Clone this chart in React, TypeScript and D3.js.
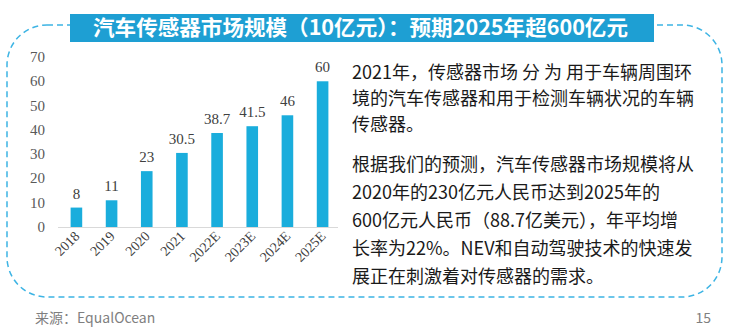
import React from "react";
import * as d3 from "d3";

const categories = ["2018", "2019", "2020", "2021", "2022E", "2023E", "2024E", "2025E"];
const values = [8, 11, 23, 30.5, 38.7, 41.5, 46, 60];
const valueLabels = ["8", "11", "23", "30.5", "38.7", "41.5", "46", "60"];
const yTicks = [0, 10, 20, 30, 40, 50, 60, 70];

const title = "汽车传感器市场规模（10亿元）：预期2025年超600亿元";
const para1 = [
  "2021年，传感器市场 分 为 用于车辆周围环",
  "境的汽车传感器和用于检测车辆状况的车辆",
  "传感器。",
];
const para2 = [
  "根据我们的预测，汽车传感器市场规模将从",
  "2020年的230亿元人民币达到2025年的",
  "600亿元人民币（88.7亿美元），年平均增",
  "长率为22%。NEV和自动驾驶技术的快速发",
  "展正在刺激着对传感器的需求。",
];
const source = "来源：EqualOcean";
const pageNo = "15";

const W = 732;
const H = 331;
const serif = "'Liberation Serif', 'DejaVu Serif', serif";
const sans = "'Noto Sans CJK SC', 'Noto Sans', sans-serif";

export default function App() {
  const x = d3.scaleBand<string>().domain(categories).range([59, 340]).paddingInner(0.67).paddingOuter(0.33);
  const y = d3.scaleLinear().domain([0, 70]).range([227, 57]);

  const boxR = 40;
  const box = { x0: 7, y0: 25, x1: 722, y1: 297 };

  return (
    <svg width={W} height={H} viewBox={`0 0 ${W} ${H}`} style={{ position: "absolute", left: 0, top: 0, background: "#fff" }}>
      <rect x={0} y={0} width={W} height={H} fill="#fff" />
      {/* dashed rounded frame */}
      <rect
        x={box.x0}
        y={box.y0}
        width={box.x1 - box.x0}
        height={box.y1 - box.y0}
        rx={boxR}
        ry={boxR}
        fill="none"
        stroke="#3db4e4"
        strokeWidth={1.5}
        strokeDasharray="6 4"
      />
      {/* title banner */}
      <rect x={70} y={14} width={584} height={28} fill="#1e9fd3" />
      <text
        x={93}
        y={35}
        fill="#fff"
        fontFamily={sans}
        fontWeight={700}
        fontSize={21}
        textLength={535}
        lengthAdjust="spacingAndGlyphs"
      >
        {title}
      </text>

      {/* y tick labels */}
      {yTicks.map((t) => (
        <text key={t} x={45} y={y(t) + 5} textAnchor="end" fontFamily={serif} fontSize={15} fill="#595959">
          {t}
        </text>
      ))}

      {/* bars */}
      {categories.map((c, i) => (
        <rect key={c} x={x(c)!} y={y(values[i])} width={x.bandwidth()} height={y(0) - y(values[i])} fill="#1aaddc" />
      ))}
      {/* value labels */}
      {categories.map((c, i) => (
        <text
          key={c + "v"}
          x={x(c)! + x.bandwidth() / 2}
          y={y(values[i]) - 9}
          textAnchor="middle"
          fontFamily={serif}
          fontSize={15}
          fill="#404040"
        >
          {valueLabels[i]}
        </text>
      ))}
      {/* axis line */}
      <line x1={58} x2={338} y1={y(0) + 0.5} y2={y(0) + 0.5} stroke="#d9d9d9" strokeWidth={1} />
      {/* x labels */}
      {categories.map((c) => {
        const cx = x(c)! + x.bandwidth() / 2 + 4;
        const cy = 237;
        return (
          <text
            key={c + "x"}
            transform={`translate(${cx},${cy}) rotate(-45)`}
            textAnchor="end"
            fontFamily={serif}
            fontSize={14}
            fill="#404040"
          >
            {c}
          </text>
        );
      })}

      {/* right text */}
      {para1.map((l, i) => (
        <text key={"p1" + i} x={352} y={79 + i * 26} fontFamily={sans} fontSize={18} fill="#1a1a1a">
          {l}
        </text>
      ))}
      {para2.map((l, i) => (
        <text key={"p2" + i} x={352} y={170.5 + i * 28} fontFamily={sans} fontSize={18} fill="#1a1a1a">
          {l}
        </text>
      ))}

      {/* footer */}
      <text x={35} y={323} fontFamily={sans} fontSize={14} fill="#7f7f7f">
        {source}
      </text>
      <text x={711} y={323} textAnchor="end" fontFamily={sans} fontSize={14} fill="#7f7f7f">
        {pageNo}
      </text>
    </svg>
  );
}
